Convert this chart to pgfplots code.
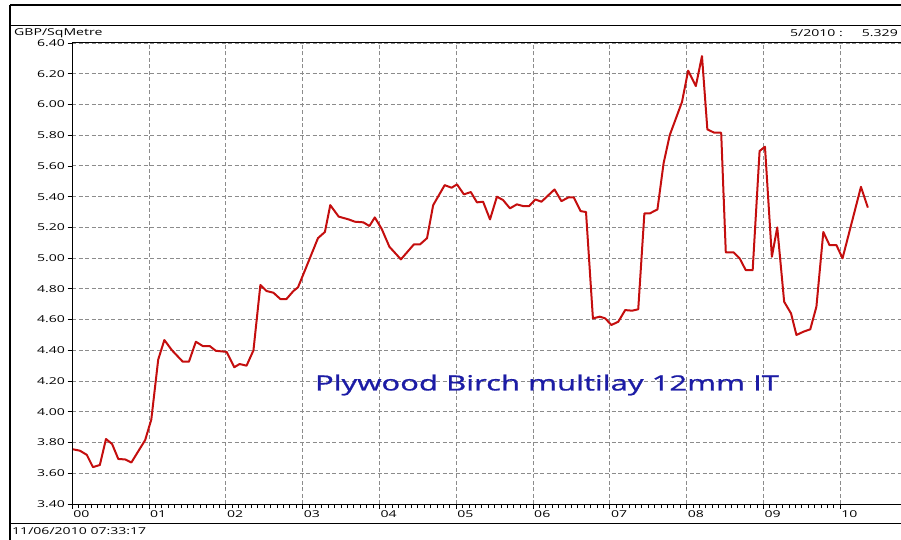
\documentclass[border=0pt]{standalone}
\usepackage{fontspec}
\setmainfont{Open Sans}
\newfontfamily\annotfont[FakeBold=0.8]{Open Sans}
\usepackage{pgfplots}
\pgfplotsset{compat=1.18}
\definecolor{lineRed}{RGB}{196,14,14}
\definecolor{txtBlue}{RGB}{28,28,165}
\definecolor{gridGray}{RGB}{140,140,140}
\newcommand{\sx}[1]{\scalebox{1.48}[1]{#1}}
\begin{document}
\begin{tikzpicture}
\useasboundingbox (0pt,0pt) rectangle (901pt,539pt);
% frame
\draw[line width=2pt] (10pt,534pt) -- (903pt,534pt);
\draw[line width=1.6pt] (10pt,534pt) -- (10pt,-2pt);
\draw[line width=0.9pt] (10pt,514pt) -- (903pt,514pt);
\draw[line width=0.9pt] (10pt,16pt) -- (903pt,16pt);
\node[anchor=west,inner sep=0pt,font=\fontsize{9.5}{11}\selectfont] at (14pt,506pt) {\sx{GBP/SqMetre}};
\node[anchor=east,inner sep=0pt,font=\fontsize{9.5}{11}\selectfont] at (843pt,506pt) {\sx{5/2010 :}};
\node[anchor=east,inner sep=0pt,font=\fontsize{9.5}{11}\selectfont] at (898pt,506pt) {\sx{5.329}};
\node[anchor=west,inner sep=0pt,font=\fontsize{9.5}{11}\selectfont] at (12pt,8pt) {\sx{11/06/2010 07:33:17}};
\begin{axis}[
  at={(72.2pt,35pt)}, anchor=south west,
  scale only axis, width=833.3pt, height=461pt,
  xmin=0, xmax=10.85, ymin=3.4, ymax=6.4,
  axis x line*=box, axis y line*=left,
  xtick={0,1,...,10},
  xticklabels={\sx{00},\sx{01},\sx{02},\sx{03},\sx{04},\sx{05},\sx{06},\sx{07},\sx{08},\sx{09},\sx{10}},
  minor x tick num=11,
  ytick={3.4,3.6,...,6.41},
  xtick pos=bottom, ytick pos=left,
  tick align=outside,
  major tick length=4.5pt, minor tick length=4pt,
  every tick/.style={black, line width=0.8pt},
  axis line style={black},
  x axis line style={line width=1pt},
  y axis line style={line width=1.3pt},
  grid=major,
  major grid style={gridGray, dash pattern=on 4pt off 2.5pt, line width=0.9pt},
  /pgf/number format/assume math mode=true,
  yticklabel={\sx{\pgfmathprintnumber[fixed,fixed zerofill,precision=2]{\tick}}},
  ticklabel style={font=\fontsize{9.5}{11}\selectfont},
  xticklabel style={anchor=north west, inner sep=0pt, xshift=1pt, yshift=-1.5pt},
  yticklabel style={anchor=east, inner sep=0pt, xshift=-2.5pt},
]
\addplot[lineRed, line width=2pt, line join=round] coordinates {
(0.01,3.756) (0.10,3.747) (0.19,3.72) (0.27,3.64) (0.36,3.654) (0.44,3.823) (0.52,3.79) (0.60,3.693) (0.69,3.69) (0.77,3.67) (0.95,3.816) (1.03,3.95) (1.12,4.34) (1.20,4.467) (1.30,4.40) (1.44,4.326) (1.52,4.326) (1.61,4.456) (1.70,4.428) (1.79,4.428) (1.87,4.397) (2.01,4.39) (2.11,4.29) (2.18,4.311) (2.27,4.30) (2.36,4.40) (2.45,4.825) (2.53,4.786) (2.62,4.775) (2.71,4.734) (2.79,4.734) (2.88,4.786) (2.94,4.81) (3.03,4.92) (3.20,5.13) (3.29,5.17) (3.36,5.345) (3.47,5.27) (3.60,5.252) (3.68,5.237) (3.79,5.233) (3.87,5.209) (3.94,5.265) (4.03,5.19) (4.13,5.074) (4.28,4.992) (4.45,5.09) (4.53,5.09) (4.62,5.13) (4.70,5.345) (4.85,5.475) (4.94,5.458) (5.01,5.48) (5.10,5.415) (5.19,5.43) (5.27,5.363) (5.35,5.367) (5.44,5.252) (5.53,5.40) (5.61,5.378) (5.70,5.324) (5.79,5.35) (5.87,5.339) (5.95,5.339) (6.03,5.382) (6.11,5.367) (6.28,5.447) (6.37,5.371) (6.46,5.395) (6.53,5.395) (6.62,5.306) (6.69,5.30) (6.78,4.608) (6.87,4.619) (6.94,4.608) (7.02,4.565) (7.11,4.586) (7.20,4.662) (7.29,4.658) (7.37,4.667) (7.45,5.291) (7.52,5.291) (7.62,5.317) (7.70,5.617) (7.78,5.80) (7.94,6.017) (8.02,6.22) (8.12,6.12) (8.20,6.315) (8.27,5.838) (8.36,5.816) (8.45,5.816) (8.51,5.038) (8.61,5.038) (8.69,4.999) (8.77,4.922) (8.86,4.922) (8.95,5.697) (9.02,5.725) (9.11,5.009) (9.18,5.20) (9.27,4.716) (9.36,4.64) (9.43,4.50) (9.52,4.521) (9.61,4.537) (9.69,4.684) (9.78,5.17) (9.86,5.085) (9.95,5.085) (10.03,4.999) (10.27,5.464) (10.36,5.329)
};
\end{axis}
\node[txtBlue, inner sep=0pt, font=\annotfont\fontsize{21}{24}\selectfont] at (547pt,154pt) {\scalebox{1.48}[1]{Plywood Birch multilay 12mm IT}};
\end{tikzpicture}
\end{document}
